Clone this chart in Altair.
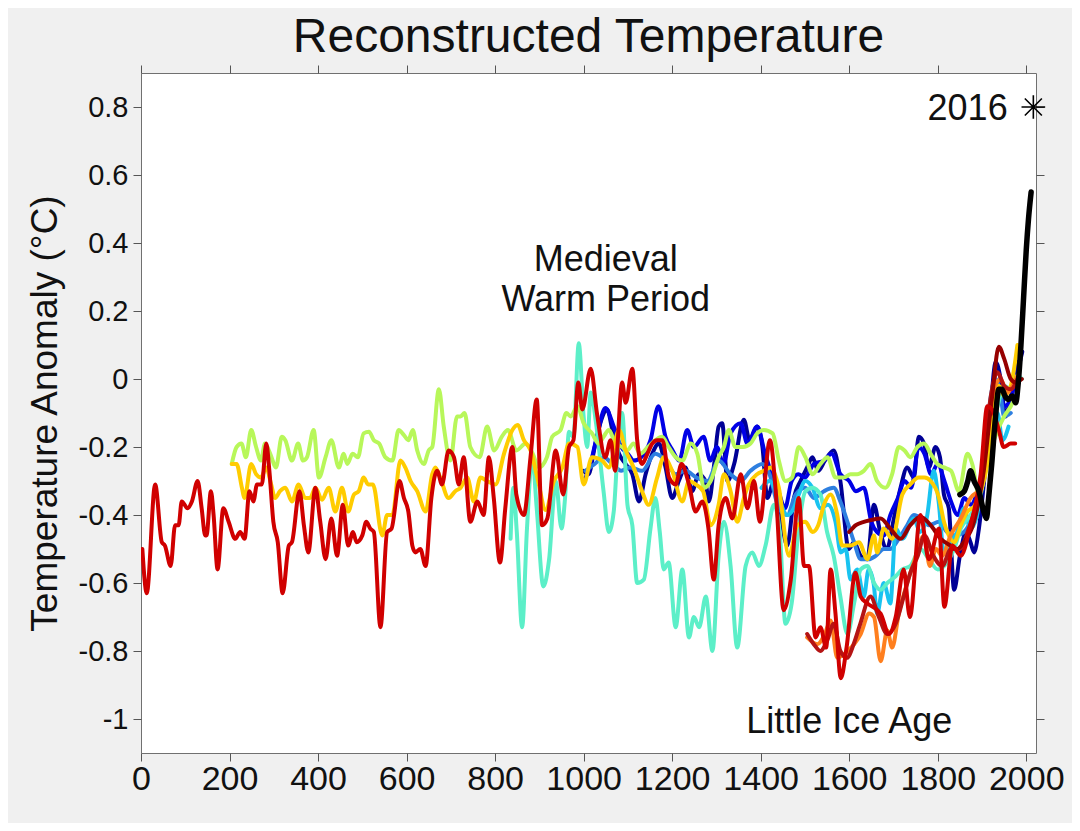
import altair as alt
import pandas as pd

# ---------------- data ----------------
RED_YEARS = [3, 13, 32, 47, 54, 67, 77, 85, 92, 105, 115, 128, 137, 145, 148, 158, 164, 173, 186, 198,
             213, 224, 234, 245, 254, 262, 273, 283, 290, 299, 309, 320, 334, 341, 358, 368, 378, 394, 405, 417,
             430, 443, 456, 468, 479, 487, 500, 509, 518, 526, 541, 556, 566, 584, 594, 604, 613, 620, 631, 643,
             656, 669, 680, 695, 707, 718, 729, 744, 760, 774, 786, 797, 811, 823, 839, 848, 865, 880, 894, 906,
             918, 937, 954, 967, 977, 988, 997, 1016, 1030, 1049, 1061, 1071, 1087, 1095, 1110, 1121, 1132, 1144, 1155, 1166,
             1178, 1193, 1208, 1221, 1238, 1253, 1268, 1282, 1294, 1305, 1321, 1336, 1355, 1370, 1385, 1398, 1421, 1434, 1452, 1468,
             1486, 1498, 1509, 1524, 1535, 1548, 1558, 1569, 1581, 1594, 1614, 1626, 1641, 1671, 1690, 1705, 1723, 1737, 1761, 1780,
             1803, 1815, 1833, 1852, 1874, 1897, 1912, 1923, 1938, 1949, 1965, 1975]
RED_VALUES = [-0.50, -0.63, -0.31, -0.48, -0.49, -0.55, -0.43, -0.43, -0.36, -0.38, -0.36, -0.30, -0.38, -0.46, -0.46, -0.33, -0.40, -0.56, -0.38, -0.42,
              -0.47, -0.45, -0.47, -0.33, -0.36, -0.31, -0.31, -0.19, -0.27, -0.42, -0.48, -0.63, -0.49, -0.48, -0.33, -0.43, -0.51, -0.32, -0.42, -0.53,
              -0.41, -0.52, -0.37, -0.49, -0.45, -0.48, -0.46, -0.42, -0.44, -0.45, -0.73, -0.45, -0.44, -0.30, -0.35, -0.39, -0.49, -0.51, -0.50, -0.55,
              -0.35, -0.27, -0.31, -0.21, -0.23, -0.31, -0.23, -0.42, -0.36, -0.40, -0.23, -0.35, -0.54, -0.38, -0.20, -0.34, -0.40, -0.23, -0.06, -0.43,
              -0.41, -0.21, -0.34, -0.20, -0.18, -0.01, -0.09, 0.03, -0.10, -0.23, -0.18, -0.27, -0.01, -0.07, 0.03, -0.18, -0.25, -0.22, -0.19, -0.18,
              -0.18, -0.29, -0.31, -0.25, -0.31, -0.39, -0.36, -0.44, -0.59, -0.43, -0.35, -0.41, -0.28, -0.38, -0.30, -0.42, -0.18, -0.33, -0.68, -0.59,
              -0.35, -0.55, -0.55, -0.76, -0.73, -0.79, -0.56, -0.69, -0.88, -0.79, -0.57, -0.64, -0.66, -0.69, -0.75, -0.70, -0.56, -0.70, -0.40, -0.53,
              -0.44, -0.67, -0.49, -0.52, -0.43, -0.28, -0.08, -0.09, -0.15, -0.20, -0.19, -0.19]

RED2_YEARS = [1505, 1520, 1535, 1550, 1565, 1580, 1595, 1610, 1625, 1648, 1667, 1686, 1705, 1723, 1738, 1755, 1770, 1790, 1810, 1830,
              1850, 1870, 1890, 1905, 1920, 1935, 1950, 1965, 1980]
RED2_VALUES = [-0.75, -0.78, -0.80, -0.77, -0.72, -0.80, -0.82, -0.78, -0.72, -0.64, -0.70, -0.75, -0.72, -0.64, -0.57, -0.52, -0.46, -0.52, -0.55, -0.50,
               -0.50, -0.44, -0.35, -0.22, -0.05, 0.02, -0.02, -0.03, 0.00]

DARKRED_YEARS = [1600, 1615, 1633, 1648, 1671, 1693, 1716, 1738, 1761, 1784, 1807, 1829, 1844, 1859, 1882, 1904, 1923, 1938, 1950, 1965, 1976, 1990]
DARKRED_VALUES = [-0.45, -0.43, -0.42, -0.415, -0.41, -0.44, -0.47, -0.43, -0.405, -0.43, -0.47, -0.49, -0.50, -0.48, -0.42, -0.27, -0.05, 0.095, 0.06, 0.0, -0.01, 0.0]

ORANGE_YEARS = [1505, 1528, 1545, 1558, 1573, 1596, 1611, 1626, 1645, 1656, 1671, 1686, 1697, 1712, 1731, 1746, 1769, 1782, 1796, 1810,
                1829, 1852, 1874, 1897, 1912, 1927, 1942, 1957, 1969, 1980]
ORANGE_VALUES = [-0.76, -0.78, -0.75, -0.71, -0.82, -0.80, -0.78, -0.75, -0.69, -0.70, -0.83, -0.74, -0.79, -0.69, -0.60, -0.54, -0.46, -0.55, -0.50, -0.52,
                 -0.46, -0.41, -0.35, -0.32, -0.15, -0.03, 0.00, -0.04, -0.02, 0.01]

GREEN_YEARS = [205, 216, 227, 237, 249, 260, 271, 280, 292, 305, 318, 326, 341, 355, 366, 375, 390, 402, 417, 430,
               447, 458, 466, 478, 490, 503, 515, 526, 538, 552, 568, 582, 594, 604, 614, 624, 639, 650, 658, 673,
               684, 699, 714, 722, 731, 744, 765, 782, 798, 815, 829, 848, 869, 885, 899, 917, 929, 948, 961, 971,
               986, 1000, 1019, 1034, 1045, 1057, 1072, 1087, 1098, 1113, 1128, 1145, 1162, 1177, 1192, 1208, 1223, 1242, 1257, 1272,
               1287, 1305, 1317, 1328, 1343, 1360, 1377, 1392, 1407, 1427, 1441, 1456, 1471, 1486, 1501, 1517, 1535, 1551, 1569, 1588,
               1603, 1618, 1633, 1648, 1663, 1682, 1697, 1712, 1725, 1738, 1754, 1769, 1784, 1799, 1814, 1830, 1848, 1867, 1878, 1893,
               1910, 1927, 1950, 1965, 1976]
GREEN_VALUES = [-0.25, -0.20, -0.19, -0.23, -0.15, -0.20, -0.24, -0.19, -0.22, -0.26, -0.17, -0.18, -0.24, -0.19, -0.24, -0.23, -0.15, -0.29, -0.23, -0.18,
                -0.26, -0.22, -0.25, -0.22, -0.23, -0.16, -0.155, -0.18, -0.19, -0.23, -0.24, -0.15, -0.165, -0.18, -0.15, -0.21, -0.25, -0.21, -0.20, -0.03,
                -0.14, -0.24, -0.11, -0.11, -0.10, -0.20, -0.23, -0.14, -0.21, -0.17, -0.15, -0.21, -0.19, -0.22, -0.26, -0.23, -0.17, -0.15, -0.10, -0.11,
                -0.08, -0.13, -0.16, -0.19, -0.17, -0.15, -0.19, -0.20, -0.21, -0.19, -0.22, -0.20, -0.18, -0.17, -0.20, -0.23, -0.24, -0.19, -0.22, -0.32,
                -0.30, -0.23, -0.20, -0.15, -0.20, -0.20, -0.19, -0.16, -0.15, -0.16, -0.24, -0.30, -0.29, -0.20, -0.23, -0.28, -0.25, -0.23, -0.29, -0.29,
                -0.28, -0.28, -0.27, -0.25, -0.30, -0.32, -0.28, -0.20, -0.21, -0.23, -0.20, -0.19, -0.22, -0.25, -0.26, -0.27, -0.33, -0.22, -0.25, -0.34,
                -0.26, -0.18, -0.11, -0.08, -0.05]

YELLOW_YEARS = [205, 216, 228, 234, 249, 260, 271, 283, 294, 303, 314, 326, 341, 356, 371, 382, 394, 409, 424, 439,
                454, 468, 481, 492, 503, 513, 524, 545, 556, 568, 586, 597, 609, 624, 643, 658, 665, 676, 695, 710,
                722, 737, 752, 767, 782, 801, 820, 839, 851, 865, 880, 897, 914, 933, 952, 967, 986, 1000, 1019, 1042,
                1057, 1080, 1095, 1113, 1132, 1147, 1166, 1181, 1200, 1223, 1238, 1253, 1270, 1287, 1305, 1317, 1332, 1347, 1362, 1373,
                1392, 1407, 1422, 1441, 1464, 1483, 1501, 1517, 1530, 1543, 1558, 1573, 1584, 1603, 1622, 1641, 1656, 1663, 1678, 1697,
                1720, 1738, 1757, 1770, 1784, 1803, 1814, 1825, 1837, 1852, 1867, 1882, 1897, 1912, 1927, 1938, 1950, 1965, 1980]
YELLOW_VALUES = [-0.25, -0.25, -0.32, -0.35, -0.25, -0.28, -0.29, -0.26, -0.31, -0.35, -0.33, -0.32, -0.36, -0.31, -0.35, -0.35, -0.32, -0.355, -0.32, -0.39,
                 -0.32, -0.39, -0.34, -0.33, -0.29, -0.31, -0.31, -0.46, -0.40, -0.40, -0.24, -0.26, -0.30, -0.33, -0.39, -0.28, -0.26, -0.29, -0.35, -0.33,
                 -0.32, -0.29, -0.36, -0.29, -0.30, -0.31, -0.22, -0.15, -0.135, -0.18, -0.21, -0.30, -0.385, -0.30, -0.26, -0.19, -0.20, -0.31, -0.23, -0.24,
                 -0.26, -0.15, -0.21, -0.26, -0.33, -0.37, -0.29, -0.23, -0.27, -0.36, -0.30, -0.31, -0.33, -0.43, -0.37, -0.28, -0.33, -0.42, -0.35, -0.31,
                 -0.28, -0.27, -0.26, -0.32, -0.52, -0.43, -0.42, -0.45, -0.43, -0.37, -0.34, -0.40, -0.49, -0.49, -0.48, -0.53, -0.46, -0.51, -0.44, -0.47,
                 -0.34, -0.31, -0.29, -0.29, -0.30, -0.35, -0.42, -0.46, -0.48, -0.43, -0.39, -0.375, -0.33, -0.25, -0.07, -0.02, -0.05, -0.02, 0.10]

AQUA_YEARS = [835, 841, 849, 861, 872, 884, 894, 909, 922, 937, 950, 958, 967, 977, 989, 1000, 1008, 1016, 1028, 1045,
              1057, 1068, 1076, 1087, 1099, 1110, 1121, 1136, 1151, 1162, 1172, 1181, 1192, 1208, 1223, 1238, 1249, 1261, 1276, 1291,
              1305, 1317, 1332, 1347, 1366, 1381, 1396, 1411, 1430, 1443, 1456, 1470, 1485, 1501, 1517, 1535, 1550, 1565, 1580, 1596,
              1611, 1626, 1641, 1656, 1671, 1686, 1705, 1720, 1738, 1761, 1780, 1800, 1821, 1837, 1852, 1874, 1897, 1920, 1935, 1950,
              1965, 1980, 1990]
AQUA_VALUES = [-0.47, -0.32, -0.45, -0.73, -0.44, -0.23, -0.38, -0.61, -0.53, -0.30, -0.44, -0.35, -0.155, -0.17, 0.105, -0.11, -0.20, -0.04, -0.13, -0.33,
               -0.45, -0.39, -0.23, -0.10, -0.37, -0.43, -0.60, -0.59, -0.44, -0.35, -0.45, -0.56, -0.54, -0.73, -0.56, -0.76, -0.70, -0.73, -0.64, -0.80,
               -0.52, -0.42, -0.55, -0.79, -0.55, -0.51, -0.55, -0.49, -0.37, -0.45, -0.72, -0.66, -0.45, -0.33, -0.32, -0.34, -0.45, -0.52, -0.64, -0.75,
               -0.66, -0.56, -0.55, -0.60, -0.62, -0.60, -0.58, -0.56, -0.55, -0.50, -0.53, -0.56, -0.54, -0.50, -0.44, -0.40, -0.34, -0.15, -0.08, -0.02,
               -0.03, 0.01, 0.00]

DARKBLUE_YEARS = [1000, 1011, 1025, 1040, 1053, 1065, 1080, 1095, 1110, 1125, 1140, 1155, 1170, 1185, 1200, 1215, 1230, 1245, 1260, 1275,
                  1283, 1295, 1305, 1313, 1325, 1340, 1362, 1375, 1392, 1404, 1415, 1430, 1445, 1460, 1475, 1490, 1505, 1517, 1530, 1545,
                  1565, 1580, 1599, 1611, 1626, 1641, 1656, 1670, 1685, 1701, 1716, 1731, 1746, 1757, 1769, 1780, 1795, 1805, 1814, 1825,
                  1837, 1850, 1864, 1874, 1882, 1893, 1904, 1916, 1931, 1942, 1953, 1965, 1980, 1991]
DARKBLUE_VALUES = [-0.27, -0.28, -0.20, -0.12, -0.09, -0.15, -0.22, -0.25, -0.28, -0.36, -0.28, -0.22, -0.19, -0.26, -0.35, -0.30, -0.26, -0.33, -0.28, -0.30,
                   -0.36, -0.25, -0.14, -0.13, -0.30, -0.25, -0.12, -0.18, -0.14, -0.20, -0.35, -0.30, -0.40, -0.49, -0.35, -0.30, -0.26, -0.23, -0.27, -0.24,
                   -0.21, -0.30, -0.50, -0.48, -0.52, -0.53, -0.37, -0.45, -0.50, -0.41, -0.32, -0.26, -0.29, -0.17, -0.19, -0.26, -0.20, -0.23, -0.34, -0.38,
                   -0.62, -0.52, -0.45, -0.48, -0.51, -0.44, -0.31, -0.15, 0.05, 0.00, -0.11, -0.05, 0.02, 0.08]

BLUE_YEARS = [1000, 1011, 1030, 1049, 1068, 1085, 1100, 1113, 1130, 1151, 1169, 1185, 1201, 1216, 1234, 1249, 1271, 1286, 1301, 1316,
              1332, 1355, 1370, 1392, 1410, 1425, 1440, 1455, 1470, 1485, 1500, 1520, 1543, 1560, 1580, 1600, 1615, 1633, 1650, 1663,
              1678, 1693, 1710, 1725, 1740, 1757, 1770, 1785, 1800, 1815, 1830, 1845, 1860, 1875, 1890, 1905, 1920, 1935, 1950, 1965, 1980]
BLUE_VALUES = [-0.30, -0.27, -0.17, -0.085, -0.14, -0.20, -0.22, -0.24, -0.23, -0.18, -0.08, -0.17, -0.21, -0.24, -0.15, -0.20, -0.17, -0.24, -0.20, -0.25,
               -0.16, -0.13, -0.19, -0.14, -0.22, -0.28, -0.33, -0.38, -0.30, -0.28, -0.29, -0.25, -0.24, -0.22, -0.28, -0.30, -0.33, -0.32, -0.42, -0.45,
               -0.46, -0.40, -0.35, -0.30, -0.32, -0.20, -0.22, -0.28, -0.25, -0.30, -0.36, -0.40, -0.35, -0.37, -0.33, -0.25, -0.10, -0.02, -0.08, -0.06, 0.05]

MIDBLUE_YEARS = [1004, 1025, 1045, 1065, 1085, 1105, 1132, 1162, 1185, 1208, 1230, 1255, 1280, 1305, 1332, 1355, 1377, 1404, 1420, 1441,
                 1460, 1479, 1501, 1520, 1543, 1565, 1580, 1596, 1611, 1626, 1644, 1660, 1678, 1693, 1712, 1731, 1746, 1763, 1780, 1803,
                 1821, 1840, 1859, 1874, 1889, 1904, 1920, 1931, 1942, 1950, 1965]
MIDBLUE_VALUES = [-0.27, -0.25, -0.23, -0.25, -0.27, -0.26, -0.27, -0.22, -0.24, -0.28, -0.27, -0.29, -0.30, -0.24, -0.28, -0.30, -0.27, -0.25, -0.28, -0.38,
                  -0.40, -0.34, -0.32, -0.35, -0.33, -0.32, -0.36, -0.42, -0.48, -0.53, -0.53, -0.52, -0.50, -0.50, -0.47, -0.43, -0.40, -0.41, -0.43, -0.42,
                  -0.45, -0.46, -0.45, -0.42, -0.37, -0.25, -0.05, 0.00, -0.05, -0.11, -0.10]

CYAN_YEARS = [1402, 1420, 1440, 1460, 1475, 1486, 1501, 1517, 1535, 1552, 1569, 1581, 1592, 1603, 1618, 1633, 1644, 1655, 1663, 1678,
              1693, 1705, 1720, 1746, 1760, 1775, 1791, 1802, 1814, 1829, 1844, 1859, 1874, 1889, 1904, 1920, 1935, 1946, 1960]
CYAN_VALUES = [-0.32, -0.30, -0.35, -0.40, -0.38, -0.34, -0.30, -0.32, -0.38, -0.37, -0.42, -0.51, -0.50, -0.59, -0.56, -0.64, -0.56, -0.60, -0.69, -0.60,
               -0.66, -0.44, -0.47, -0.41, -0.45, -0.41, -0.27, -0.36, -0.51, -0.48, -0.45, -0.38, -0.44, -0.40, -0.25, -0.12, -0.10, -0.18, -0.14]

BLACK_YEARS = [1850, 1860, 1868, 1874, 1882, 1893, 1904, 1910, 1915, 1922, 1930, 1938, 1945, 1952, 1960, 1968, 1976, 1982, 1988, 1994,
               2000, 2005, 2011]
BLACK_VALUES = [-0.34, -0.33, -0.30, -0.27, -0.30, -0.33, -0.39, -0.41, -0.35, -0.25, -0.12, -0.03, -0.03, -0.05, -0.06, -0.05, -0.07, -0.01, 0.10, 0.24,
                0.38, 0.47, 0.55]

# drawing order: first listed is drawn first (underneath)
SERIES = [
    ("Dark blue", DARKBLUE_YEARS, DARKBLUE_VALUES, "#000096", 4),
    ("Blue", BLUE_YEARS, BLUE_VALUES, "#0000E6", 4),
    ("Mid blue", MIDBLUE_YEARS, MIDBLUE_VALUES, "#2E7FE0", 4),
    ("Cyan", CYAN_YEARS, CYAN_VALUES, "#19C3F0", 4),
    ("Aquamarine", AQUA_YEARS, AQUA_VALUES, "#5CEFC8", 4),
    ("Light green", GREEN_YEARS, GREEN_VALUES, "#B8F75A", 4),
    ("Yellow", YELLOW_YEARS, YELLOW_VALUES, "#FFCC00", 4),
    ("Orange", ORANGE_YEARS, ORANGE_VALUES, "#FF7F1E", 4),
    ("Red 2", RED2_YEARS, RED2_VALUES, "#B51414", 4),
    ("Dark red", DARKRED_YEARS, DARKRED_VALUES, "#960000", 4),
    ("Red", RED_YEARS, RED_VALUES, "#D00000", 4),
    ("Instrumental", BLACK_YEARS, BLACK_VALUES, "#000000", 5.5),
]

X_TICKS = [0, 200, 400, 600, 800, 1000, 1200, 1400, 1600, 1800, 2000]
Y_TICKS = [-1.0, -0.8, -0.6, -0.4, -0.2, 0.0, 0.2, 0.4, 0.6, 0.8]

STAR_YEAR = [2016]
STAR_VALUE = [0.80]

TITLE_TEXT = ["Reconstructed Temperature"]
TITLE_YEAR = [1011]
TITLE_VALUE = [0.962]

LABELS_CENTER = ["Medieval", "Warm Period", "Little Ice Age"]
LABELS_CENTER_YEAR = [1050, 1050, 1600]
LABELS_CENTER_VALUE = [0.318, 0.200, -1.041]
LABELS_RIGHT = ["2016"]
LABELS_RIGHT_YEAR = [1958]
LABELS_RIGHT_VALUE = [0.762]

# ---------------- chart ----------------
FONT = "Liberation Sans, Arial, Helvetica, sans-serif"
xs = alt.Scale(domain=[0, 2022], nice=False, zero=False)
ys = alt.Scale(domain=[-1.1, 0.9], nice=False, zero=False)

layers = []
for name, yrs, vals, col, sw in SERIES:
    df = pd.DataFrame({"year": yrs, "value": vals, "series": name})
    layers.append(
        alt.Chart(df).mark_line(color=col, strokeWidth=sw, clip=True, interpolate="monotone",
                                strokeJoin="round", strokeCap="round").encode(
            x=alt.X("year:Q", scale=xs, axis=None),
            y=alt.Y("value:Q", scale=ys, axis=None),
        )
    )

STAR_PATH = "M0,-1L0,1M-1,0L1,0M-0.72,-0.72L0.72,0.72M-0.72,0.72L0.72,-0.72"
star_df = pd.DataFrame({"year": STAR_YEAR, "value": STAR_VALUE})
star = alt.Chart(star_df).mark_point(shape=STAR_PATH, size=560, filled=False, stroke="black",
                                     strokeWidth=1.6, opacity=1).encode(
    x=alt.X("year:Q", scale=xs, axis=alt.Axis(
        orient="bottom", values=X_TICKS, title=None, domain=False, grid=False,
        tickSize=8, tickColor="#555555", tickWidth=1,
        labelFont=FONT, labelFontSize=34, labelColor="#111111", labelPadding=1,
        labelFlush=False, labelOverlap=False, format="d")),
    y=alt.Y("value:Q", scale=ys, axis=alt.Axis(
        orient="left", values=Y_TICKS, domain=False, grid=False,
        tickSize=8, tickColor="#555555", tickWidth=1,
        labelFont=FONT, labelFontSize=29, labelColor="#111111", labelPadding=5,
        labelExpr="toString(round(datum.value*10)/10)", labelFlush=False, labelOverlap=False,
        title="Temperature Anomaly (°C)", titleFont=FONT, titleFontSize=37,
        titleFontWeight="normal", titleColor="#111111", titleX=-96, titleY=340,
        titleAngle=270, titleAlign="center", titleBaseline="middle")),
)

center_df = pd.DataFrame({"label": LABELS_CENTER, "year": LABELS_CENTER_YEAR, "value": LABELS_CENTER_VALUE})
center_text = alt.Chart(center_df).mark_text(font=FONT, fontSize=36, align="center",
                                             baseline="alphabetic", color="#111111").encode(
    x=alt.X("year:Q", scale=xs, axis=alt.Axis(
        orient="top", values=X_TICKS, labels=False, title=None, domain=False, grid=False,
        tickSize=8, tickColor="#555555", tickWidth=1)),
    y=alt.Y("value:Q", scale=ys, axis=alt.Axis(
        orient="right", values=Y_TICKS, labels=False, title=None, domain=False, grid=False,
        tickSize=8, tickColor="#555555", tickWidth=1)),
    text="label:N",
)

right_df = pd.DataFrame({"label": LABELS_RIGHT, "year": LABELS_RIGHT_YEAR, "value": LABELS_RIGHT_VALUE})
right_text = alt.Chart(right_df).mark_text(font=FONT, fontSize=36, align="right",
                                           baseline="alphabetic", color="#111111").encode(
    x=alt.X("year:Q", scale=xs, axis=None),
    y=alt.Y("value:Q", scale=ys, axis=None),
    text="label:N",
)

title_df = pd.DataFrame({"label": TITLE_TEXT, "year": TITLE_YEAR, "value": TITLE_VALUE})
title_text = alt.Chart(title_df).mark_text(font=FONT, fontSize=48, align="center",
                                           baseline="alphabetic", color="#111111", clip=False).encode(
    x=alt.X("year:Q", scale=xs, axis=None),
    y=alt.Y("value:Q", scale=ys, axis=None),
    text="label:N",
)

chart = alt.layer(*layers, star, center_text, right_text, title_text).resolve_axis(
    x="independent", y="independent"
).properties(
    width=895,
    height=680,
    autosize=alt.AutoSizeParams(type="none"),
    padding={"left": 133, "top": 65, "right": 36, "bottom": 70},
    background="#F0F0F0",
).configure_view(
    fill="white", stroke="#707070", strokeWidth=1
)

chart.save("out.html", embed_options={"renderer": "svg", "actions": False})
